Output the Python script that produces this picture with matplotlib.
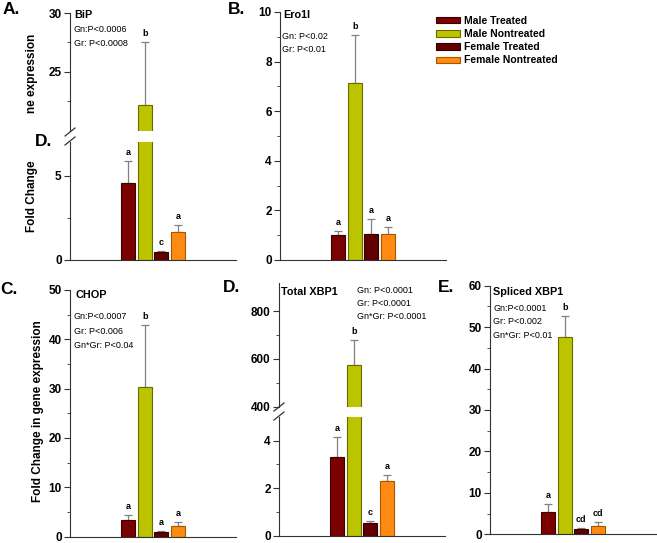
import matplotlib.pyplot as plt
import numpy as np
from matplotlib.patches import Patch
from matplotlib.lines import Line2D
from matplotlib.ticker import FixedLocator

plt.rcParams["font.family"] = ["Liberation Sans", "DejaVu Sans"]

# groups and colours
groups = ["Male Treated", "Male Nontreated", "Female Treated", "Female Nontreated"]
colors = ["#7b0000", "#bcc400", "#620000", "#ff8a12"]
edges = ["#3a0000", "#6a6a00", "#2e0000", "#a85500"]

# values (mean, SEM)
bip_mean = [4.55, 22.2, 0.45, 1.65]
bip_sem = [1.3, 5.3, 0.1, 0.4]
bip_letters = ["a", "b", "c", "a"]

ero_mean = [1.0, 7.12, 1.04, 1.06]
ero_sem = [0.17, 1.95, 0.61, 0.26]
ero_letters = ["a", "b", "a", "a"]

chop_mean = [3.3, 30.3, 0.95, 2.1]
chop_sem = [1.1, 12.5, 0.15, 0.9]
chop_letters = ["a", "b", "a", "a"]

txbp_mean = [3.32, 574, 0.52, 2.28]
txbp_sem = [0.83, 104, 0.08, 0.28]
txbp_letters = ["a", "b", "c", "a"]

sxbp_mean = [5.3, 47.7, 1.3, 2.1]
sxbp_sem = [1.9, 4.9, 0.15, 0.8]
sxbp_letters = ["a", "b", "cd", "cd"]

W, H = 657, 543
fig = plt.figure(figsize=(W / 100, H / 100), dpi=100)
x = np.arange(len(groups))


def add_ax(x0, y0, x1, y1):
    return fig.add_axes([x0 / W, 1 - y1 / H, (x1 - x0) / W, (y1 - y0) / H])


def ftext(px, py, s, **kw):
    return fig.text(px / W, 1 - py / H, s, **kw)


def style(ax, ylim, major, minor, bottom=True):
    ax.set_xlim(-3.5, 6.5)
    ax.set_ylim(*ylim)
    for side in ["top", "right"]:
        ax.spines[side].set_visible(False)
    ax.spines["bottom"].set_visible(bottom)
    ax.spines["left"].set_color("#333333")
    ax.spines["bottom"].set_color("#333333")
    ax.set_xticks([])
    ax.yaxis.set_major_locator(FixedLocator(major))
    ax.yaxis.set_minor_locator(FixedLocator(minor))
    ax.tick_params(axis="y", which="major", length=4, width=0.8, color="#333333",
                   labelsize=8.5, pad=2)
    ax.tick_params(axis="y", which="minor", length=2.5, width=0.6, color="#333333")
    for lab in ax.get_yticklabels():
        lab.set_fontweight("bold")


def bars(ax, means, sems, letters):
    ax.bar(x, means, width=0.85, color=colors, edgecolor=edges, linewidth=0.8, zorder=2)
    ax.errorbar(x, means, yerr=[np.zeros(4), sems], fmt="none", ecolor="#808080",
                elinewidth=0.9, capsize=3, capthick=0.9, zorder=1)
    lo, hi = ax.get_ylim()
    for xi, m, s, l in zip(x, means, sems, letters):
        top = m + s
        if lo <= top <= hi:
            ax.annotate(l, (xi, top), xytext=(0, 3), textcoords="offset points",
                        ha="center", va="bottom", fontsize=6.5, fontweight="bold")


def break_marks(px, yb1, yb2):
    for yb in (yb1, yb2):
        fig.add_artist(Line2D([(px - 5) / W, (px + 5) / W],
                              [1 - (yb + 4) / H, 1 - (yb - 4) / H],
                              color="#333333", lw=0.9))


# ---- A. BiP (broken axis)
axA_up = add_ax(70, 13, 236, 131)
style(axA_up, (20, 30), [25, 30], [22.5, 27.5], bottom=False)
bars(axA_up, bip_mean, bip_sem, bip_letters)
axA_lo = add_ax(70, 141.7, 236, 260)
style(axA_lo, (0, 7), [0, 5], [2.5])
bars(axA_lo, bip_mean, bip_sem, bip_letters)
break_marks(70, 132, 141)

# ---- B. Ero1l
axB = add_ax(280, 12, 446, 260)
style(axB, (0, 10), [0, 2, 4, 6, 8, 10], [1, 3, 5, 7, 9])
bars(axB, ero_mean, ero_sem, ero_letters)

# ---- C. CHOP
axC = add_ax(70, 290, 236, 536.5)
style(axC, (0, 50), [0, 10, 20, 30, 40, 50], [5, 15, 25, 35, 45])
bars(axC, chop_mean, chop_sem, chop_letters)

# ---- D. Total XBP1 (broken axis)
axD_up = add_ax(279, 283.3, 445, 406.7)
style(axD_up, (400, 917), [400, 600, 800], [500, 700], bottom=False)
bars(axD_up, txbp_mean, txbp_sem, txbp_letters)
axD_lo = add_ax(279, 416.7, 445, 535.7)
style(axD_lo, (0, 5), [0, 2, 4], [1, 3])
bars(axD_lo, txbp_mean, txbp_sem, txbp_letters)
break_marks(279, 407, 416)

# ---- E. Spliced XBP1
axE = add_ax(490, 285.7, 656, 534.3)
style(axE, (0, 60), [0, 10, 20, 30, 40, 50, 60], [5, 15, 25, 35, 45, 55])
bars(axE, sxbp_mean, sxbp_sem, sxbp_letters)

# panel letters
for px, py, s in [(3, 10, "A."), (228, 9, "B."), (0, 289, "C."), (223, 288, "D."),
                  (438, 288, "E.")]:
    ftext(px, py, s, fontsize=12.5, fontweight="bold", va="center", ha="left")

# gene names and statistics
stat = dict(fontsize=6.5, va="center", ha="left")
title = dict(fontsize=7.8, fontweight="bold", va="center", ha="left")
ftext(74, 15, "BiP", **title)
ftext(74, 30, "Gn:P<0.0006", **stat)
ftext(74, 43, "Gr: P<0.0008", **stat)

ftext(283, 15, "Ero1l", **title)
ftext(282, 36, "Gn: P<0.02", **stat)
ftext(282, 50, "Gr: P<0.01", **stat)

ftext(75, 295, "CHOP", **title)
ftext(74, 316.7, "Gn:P<0.0007", **stat)
ftext(74, 331.7, "Gr: P<0.006", **stat)
ftext(74, 346, "Gn*Gr: P<0.04", **stat)

ftext(281, 291.7, "Total XBP1", **title)
ftext(357, 290.7, "Gn: P<0.0001", **stat)
ftext(357, 303.3, "Gr: P<0.0001", **stat)
ftext(357, 316.7, "Gn*Gr: P<0.0001", **stat)

ftext(493, 291.7, "Spliced XBP1", **title)
ftext(493, 308.3, "Gn:P<0.0001", **stat)
ftext(493, 321.7, "Gr: P<0.002", **stat)
ftext(493, 335.7, "Gn*Gr: P<0.01", **stat)

# y labels (panel A's label is partly hidden by a pasted "D." in the original)
ylab = dict(fontsize=8.5, fontweight="bold", rotation=90, ha="center")
ftext(32, 232, "Fold Change", va="bottom", **ylab)
ftext(32, 113, "ne expression", va="bottom", **ylab)
ftext(35, 141, "D.", fontsize=12.5, fontweight="bold", va="center", ha="left")
ftext(38, 411, "Fold Change in gene expression", va="center", **ylab)

# legend
handles = [Patch(facecolor=c, edgecolor=e, linewidth=0.8) for c, e in zip(colors, edges)]
fig.legend(handles, groups, loc="upper left", bbox_to_anchor=(436 / W, 1 - 16 / H),
           frameon=False, handlelength=2.3, handleheight=0.55,
           handletextpad=0.4, labelspacing=0.3, borderpad=0, borderaxespad=0,
           prop={"weight": "bold", "size": 7.5})

fig.savefig("out.png", dpi=100)
